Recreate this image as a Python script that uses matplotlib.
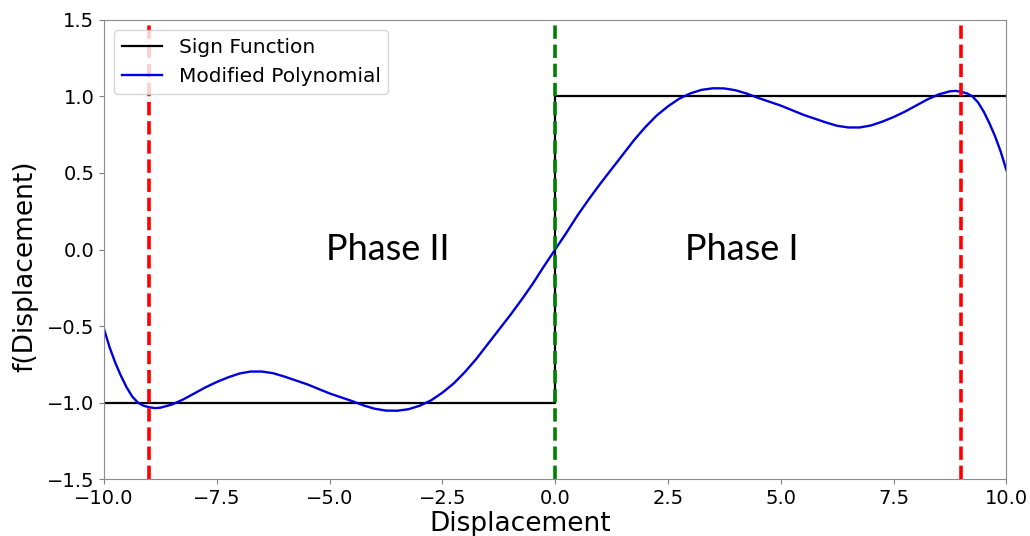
import matplotlib.pyplot as plt
import numpy as np

# displacement grid (0.25 steps, finer near the ends) and the modified polynomial
disp = np.concatenate([
    [-10, -9.875, -9.75, -9.625, -9.5, -9.375, -9.25, -9.125, -9.0, -8.875],
    np.arange(-8.75, 8.76, 0.25),
    [8.875, 9.0, 9.125, 9.25, 9.375, 9.5, 9.625, 9.75, 9.875, 10],
])
poly_vals = [
    -0.52, -0.64, -0.74, -0.825, -0.90, -0.96, -1.00, -1.02, -1.03, -1.036,
    -1.033, -1.013, -0.98, -0.94, -0.90,
    -0.865, -0.835, -0.81, -0.797, -0.797, -0.808, -0.83, -0.855, -0.88, -0.91,
    -0.94, -0.965, -0.99, -1.018, -1.04, -1.052, -1.053, -1.043, -1.02, -0.985,
    -0.935, -0.875, -0.80, -0.715, -0.62, -0.525, -0.43, -0.33, -0.225, -0.11,
    0.0,
    0.11, 0.225, 0.33, 0.43, 0.525, 0.62, 0.715, 0.80, 0.875, 0.935,
    0.985, 1.02, 1.043, 1.053, 1.052, 1.04, 1.018, 0.99, 0.965, 0.94,
    0.91, 0.88, 0.855, 0.83, 0.808, 0.797, 0.797, 0.81, 0.835, 0.865,
    0.90, 0.94, 0.98, 1.013, 1.033,
    1.036, 1.03, 1.02, 1.00, 0.96, 0.90, 0.825, 0.74, 0.64, 0.52,
]

sign_x = [-10, 0, 0, 10]
sign_y = [-1, -1, 1, 1]

boundary_lines = [-9, 9]
phase_labels = ["Phase II", "Phase I"]
phase_pos = [(-3.72, 0.0), (4.13, 0.0)]

fig = plt.figure(figsize=(10.3, 5.36), dpi=100)
ax = fig.add_axes([0.101, 0.106, 0.876, 0.857])

ax.plot(sign_x, sign_y, color='black', lw=1.6, label='Sign Function')
ax.plot(disp, poly_vals, color='#0000dd', lw=1.7, label='Modified Polynomial')

for xb in boundary_lines:
    ax.axvline(xb, color='red', ls='--', lw=2.6)
ax.axvline(0, color='green', ls='--', lw=2.6)

for txt, (px, py) in zip(phase_labels, phase_pos):
    ax.text(px, py, txt, fontsize=26, family='Lato', ha='center', va='center')

ax.set_xlim(-10, 10)
ax.set_ylim(-1.5, 1.5)
ax.set_xticks(np.arange(-10, 10.1, 2.5))
ax.set_yticks(np.arange(-1.5, 1.51, 0.5))
ax.tick_params(labelsize=14, color='0.5')
for sp in ax.spines.values():
    sp.set_color('0.55')

ax.set_xlabel('Displacement', fontsize=19)
ax.set_ylabel('f(Displacement)', fontsize=19)
ax.xaxis.set_label_coords(0.461, -0.07)
ax.yaxis.set_label_coords(-0.073, 0.464)

ax.legend(loc='upper left', fontsize=14.5)

fig.savefig('out.png', dpi=100)
